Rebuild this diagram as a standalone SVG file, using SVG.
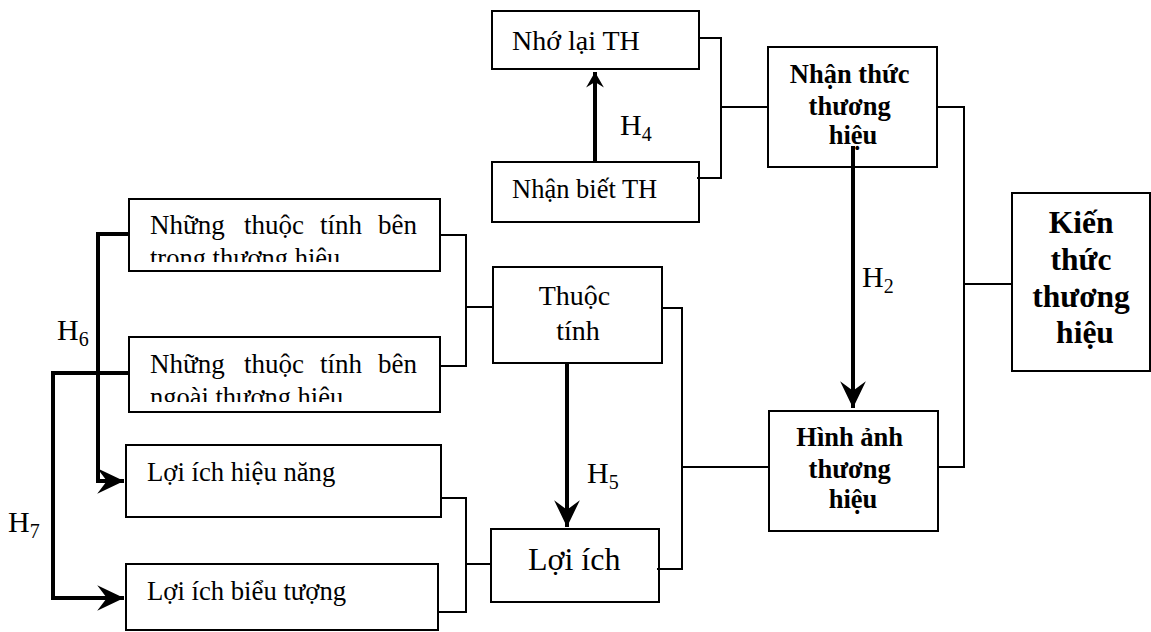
<svg xmlns="http://www.w3.org/2000/svg" width="1151" height="632" viewBox="0 0 1151 632">
  <style>
    .box { fill: #fff; stroke: #000; stroke-width: 2; }
    .txt { font-family: "Liberation Serif", "Times New Roman", serif; fill: #000; }
    .bold { font-weight: bold; }
    .mid { text-anchor: middle; }
    .end { text-anchor: end; }
    .link { fill: none; stroke: #000; stroke-width: 2; }
    .hyp { fill: none; stroke: #000; stroke-width: 4; }
    .lbl { font-family: "Liberation Serif", "Times New Roman", serif; font-size: 30px; fill: #000; }
  </style>
  <defs>
    <marker id="head" markerUnits="userSpaceOnUse" markerWidth="30" markerHeight="30" viewBox="-26 -13 28 26" refX="0" refY="0" orient="auto">
      <path d="M0,0 L-25,-12 L-16,0 L-25,12 Z" fill="#000"/>
    </marker>
    <marker id="headSmall" markerUnits="userSpaceOnUse" markerWidth="20" markerHeight="20" viewBox="-16 -9 18 18" refX="0" refY="0" orient="auto">
      <path d="M0,0 L-14,-8 L-9,0 L-14,8 Z" fill="#000"/>
    </marker>
    <clipPath id="clipTrong"><rect x="129" y="199" width="311" height="63"/></clipPath>
    <clipPath id="clipNgoai"><rect x="129" y="337" width="311" height="65"/></clipPath>
  </defs>

  <g id="nho-lai">
    <rect class="box" x="492" y="11" width="207" height="58"/>
    <text class="txt" x="512" y="50" font-size="28">Nhớ lại TH</text>
  </g>
  <g id="nhan-biet">
    <rect class="box" x="492" y="162" width="207" height="60"/>
    <text class="txt" x="512" y="198" font-size="26.5">Nhận biết TH</text>
  </g>
  <g id="nhan-thuc">
    <rect class="box" x="768" y="47" width="169" height="120"/>
    <text class="txt bold mid" font-size="26.5">
      <tspan x="853" y="83">Nhận thức</tspan>
      <tspan x="853" y="115">thương</tspan>
      <tspan x="853" y="144">hiệu</tspan>
    </text>
  </g>
  <g id="hinh-anh">
    <rect class="box" x="769" y="411" width="169" height="120"/>
    <text class="txt bold mid" font-size="26.5">
      <tspan x="853" y="446">Hình ảnh</tspan>
      <tspan x="853" y="478">thương</tspan>
      <tspan x="853" y="508">hiệu</tspan>
    </text>
  </g>
  <g id="kien-thuc">
    <rect class="box" x="1012" y="193" width="138" height="178"/>
    <text class="txt bold mid" font-size="31.5">
      <tspan x="1085" y="233">Kiến</tspan>
      <tspan x="1085" y="270">thức</tspan>
      <tspan x="1085" y="307">thương</tspan>
      <tspan x="1085" y="343">hiệu</tspan>
    </text>
  </g>
  <g id="thuoc-tinh-trong">
    <rect class="box" x="129" y="199" width="311" height="72"/>
    <text class="txt" y="234" font-size="27"><tspan x="150">Những</tspan><tspan x="244">thuộc</tspan><tspan x="320">tính</tspan><tspan x="378">bên</tspan></text>
    <text class="txt" x="150" y="267" font-size="26.5" clip-path="url(#clipTrong)">trong thương hiệu</text>
  </g>
  <g id="thuoc-tinh-ngoai">
    <rect class="box" x="129" y="337" width="311" height="75"/>
    <text class="txt" y="373" font-size="27"><tspan x="150">Những</tspan><tspan x="244">thuộc</tspan><tspan x="320">tính</tspan><tspan x="378">bên</tspan></text>
    <text class="txt" x="150" y="406" font-size="26.5" clip-path="url(#clipNgoai)">ngoài thương hiệu</text>
  </g>
  <g id="thuoc-tinh">
    <rect class="box" x="493" y="267" width="169" height="96"/>
    <text class="txt mid" font-size="28">
      <tspan x="578" y="305">Thuộc</tspan>
      <tspan x="578" y="340">tính</tspan>
    </text>
  </g>
  <g id="loi-ich-hieu-nang">
    <rect class="box" x="126" y="445" width="315" height="72"/>
    <text class="txt" x="147" y="481" font-size="26.7">Lợi ích hiệu năng</text>
  </g>
  <g id="loi-ich-bieu-tuong">
    <rect class="box" x="126" y="564" width="312" height="66"/>
    <text class="txt" x="147" y="600" font-size="26.7">Lợi ích biểu tượng</text>
  </g>
  <g id="loi-ich">
    <rect class="box" x="491" y="529" width="168" height="73"/>
    <text class="txt" x="528" y="570" font-size="32">Lợi ích</text>
  </g>

  <!-- connectors: brackets joining groups, thick arrows for hypotheses -->
  <g id="connectors">
    <path class="link" d="M699,38 H721 V178 H697 M721,107 H768"/>
    <path class="link" d="M937,107 H964 V467 H938 M964,284 H1012"/>
    <path class="link" d="M440,235 H466 V366 H440 M466,307 H493"/>
    <path class="link" d="M662,308 H682 V569 H657 M682,467 H769"/>
    <path class="link" d="M441,498 H466 V612 H438 M466,564 H491"/>
    <line class="hyp" x1="595" y1="162" x2="595" y2="72" marker-end="url(#headSmall)"/>
    <line class="hyp" x1="853" y1="146" x2="853" y2="408" marker-end="url(#head)"/>
    <line class="hyp" x1="567" y1="363" x2="567" y2="527" marker-end="url(#head)"/>
    <path class="hyp" d="M129,234 H98 V481 H124" marker-end="url(#head)"/>
    <path class="hyp" d="M129,373 H53 V598 H124" marker-end="url(#head)"/>
    <text class="lbl" x="620" y="135">H<tspan font-size="20" dy="6">4</tspan></text>
    <text class="lbl" x="862" y="287">H<tspan font-size="20" dy="6">2</tspan></text>
    <text class="lbl" x="587" y="483">H<tspan font-size="20" dy="6">5</tspan></text>
    <text class="lbl" x="57" y="340">H<tspan font-size="20" dy="6">6</tspan></text>
    <text class="lbl" x="8" y="532">H<tspan font-size="20" dy="6">7</tspan></text>
  </g>
</svg>
